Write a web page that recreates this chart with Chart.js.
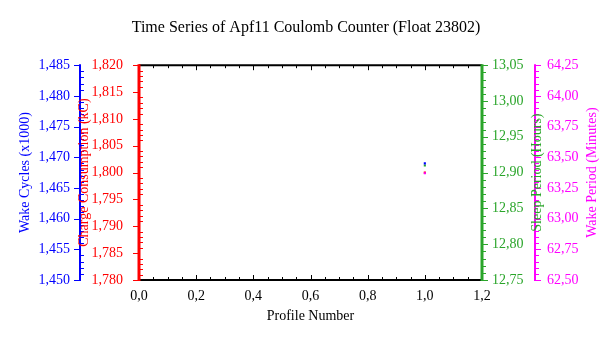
<!DOCTYPE html>
<html>
<head>
<meta charset="utf-8">
<script src="https://cdn.jsdelivr.net/npm/chart.js@4.4.1/dist/chart.umd.min.js"></script>
<style>
  body { margin: 0; background: #fff; }
  canvas { display: block; }
</style>
</head>
<body>
<canvas id="coulombChart" width="614" height="338"></canvas>
<script>
// profile numbers and the measured values per series
const profiles = [1];
const wakeCycles = [1.469];   // x1000
const chargeKC = [1.800];
const sleepHours = [12.91];
const wakeMinutes = [63.37];

const FONT = 'Liberation Serif, Times New Roman, serif';
const BLUE = '#0000ff';
const RED = '#ff0000';
const GREEN = '#2aa52a';
const MAGENTA = '#ff00ff';

const comma = (v, d) => Number(v).toFixed(d).replace('.', ',');
const points = ys => profiles.map((p, i) => ({ x: p, y: ys[i] }));

// axis decoration: lines, major + minor ticks, rotated titles
const axisDecor = {
    id: 'axisDecor',
    afterDraw(chart) {
        const ctx = chart.ctx;
        const a = chart.chartArea;
        const s = chart.scales;
        ctx.save();

        // frame top / bottom
        ctx.strokeStyle = '#000';
        ctx.lineWidth = 2;
        ctx.beginPath();
        ctx.moveTo(a.left, a.top); ctx.lineTo(a.right, a.top);
        ctx.moveTo(a.left, a.bottom); ctx.lineTo(a.right, a.bottom);
        ctx.stroke();

        ctx.lineWidth = 1;
        ctx.beginPath();
        for (let i = 0; i <= 24; i++) {
            const v = i * 0.05;
            const px = Math.round(s.x.getPixelForValue(v)) + 0.5;
            const len = i % 4 === 0 ? 5 : 3;
            ctx.moveTo(px, a.bottom); ctx.lineTo(px, a.bottom - len);
            ctx.moveTo(px, a.top); ctx.lineTo(px, a.top + len);
        }
        ctx.stroke();

        const yAxis = (scale, x, color, width, minor, every, side) => {
            ctx.strokeStyle = color;
            ctx.lineWidth = width;
            ctx.beginPath();
            ctx.moveTo(x, scale.top - 1); ctx.lineTo(x, scale.bottom + 1);
            ctx.stroke();
            ctx.lineWidth = 1;
            ctx.beginPath();
            const n = Math.round((scale.max - scale.min) / minor);
            for (let i = 0; i <= n; i++) {
                const py = Math.round(scale.getPixelForValue(scale.min + i * minor)) + 0.5;
                if (i % every === 0) {
                    ctx.moveTo(x, py); ctx.lineTo(x + side * 6, py);
                } else {
                    const ms = side < 0 ? 1 : side;
                    ctx.moveTo(x, py); ctx.lineTo(x + ms * 4, py);
                }
            }
            ctx.stroke();
        };
        yAxis(s.yWake, s.yWake.right, BLUE, 2, 0.001, 5, -1);
        yAxis(s.yCharge, s.yCharge.right, RED, 3, 0.001, 5, -1);
        yAxis(s.ySleep, s.ySleep.left, GREEN, 3, 0.01, 5, 1);
        yAxis(s.yWakeMin, s.yWakeMin.left, MAGENTA, 2, 0.05, 5, 1);

        const title = (text, x, color) => {
            ctx.save();
            ctx.translate(x, (a.top + a.bottom) / 2);
            ctx.rotate(-Math.PI / 2);
            ctx.fillStyle = color;
            ctx.font = '14px ' + FONT;
            ctx.textAlign = 'center';
            ctx.textBaseline = 'middle';
            ctx.fillText(text, 0, 0);
            ctx.restore();
        };
        title('Wake Cycles (x1000)', s.yWake.left + 15, BLUE);
        title('Charge Consumption (kC)', s.yCharge.left + 4, RED);
        title('Sleep Period (Hours)', s.ySleep.right + 2, GREEN);
        title('Wake Period (Minutes)', s.yWakeMin.left + 57, MAGENTA);

        ctx.restore();
    }
};

const yScale = (position, min, max, step, digits, color, width, pad) => ({
    type: 'linear',
    position,
    min, max,
    grid: { display: false, drawTicks: false },
    border: { display: false },
    ticks: {
        stepSize: step,
        autoSkip: false,
        color,
        padding: pad,
        font: { family: FONT, size: 14 },
        callback: v => comma(v, digits)
    },
    afterFit: sc => { sc.width = width; }
});

new Chart(document.getElementById('coulombChart'), {
    type: 'scatter',
    data: {
        datasets: [
            { label: 'Wake Cycles', data: points(wakeCycles), yAxisID: 'yWake',
              backgroundColor: BLUE, borderColor: BLUE },
            { label: 'Sleep Period', data: points(sleepHours), yAxisID: 'ySleep',
              backgroundColor: GREEN, borderColor: GREEN },
            { label: 'Wake Period', data: points(wakeMinutes), yAxisID: 'yWakeMin',
              backgroundColor: MAGENTA, borderColor: MAGENTA },
            { label: 'Charge Consumption', data: points(chargeKC), yAxisID: 'yCharge',
              backgroundColor: RED, borderColor: RED }
        ]
    },
    options: {
        responsive: false,
        animation: false,
        layout: { padding: { left: 10, right: 12, bottom: 13 } },
        elements: { point: { pointStyle: 'rect', radius: 1.5, borderWidth: 0 } },
        plugins: {
            legend: { display: false },
            tooltip: { enabled: false },
            title: {
                display: true,
                text: 'Time Series of Apf11 Coulomb Counter (Float 23802)',
                color: '#000',
                font: { family: FONT, size: 16, weight: 'normal' },
                padding: { top: 18, bottom: 28 }
            }
        },
        scales: {
            x: {
                type: 'linear',
                position: 'bottom',
                min: 0, max: 1.2,
                grid: { display: false, drawTicks: false },
                border: { display: false },
                ticks: {
                    stepSize: 0.2,
                    autoSkip: false,
                    color: '#000',
                    padding: 8,
                    font: { family: FONT, size: 14 },
                    callback: v => comma(v, 1)
                },
                title: {
                    display: true,
                    text: 'Profile Number',
                    color: '#000',
                    font: { family: FONT, size: 14 },
                    padding: { top: 2, bottom: 0 }
                },
                afterFit: sc => { sc.height = 45; }
            },
            // left axes: first defined sits next to the plot
            yCharge: yScale('left', 1.78, 1.82, 0.005, 3, RED, 59, 16),
            yWake: yScale('left', 1.45, 1.485, 0.005, 3, BLUE, 70, 10),
            ySleep: yScale('right', 12.75, 13.05, 0.05, 2, GREEN, 53, 10),
            yWakeMin: yScale('right', 62.5, 64.25, 0.25, 2, MAGENTA, 67, 12)
        }
    },
    plugins: [axisDecor]
});
</script>
</body>
</html>
